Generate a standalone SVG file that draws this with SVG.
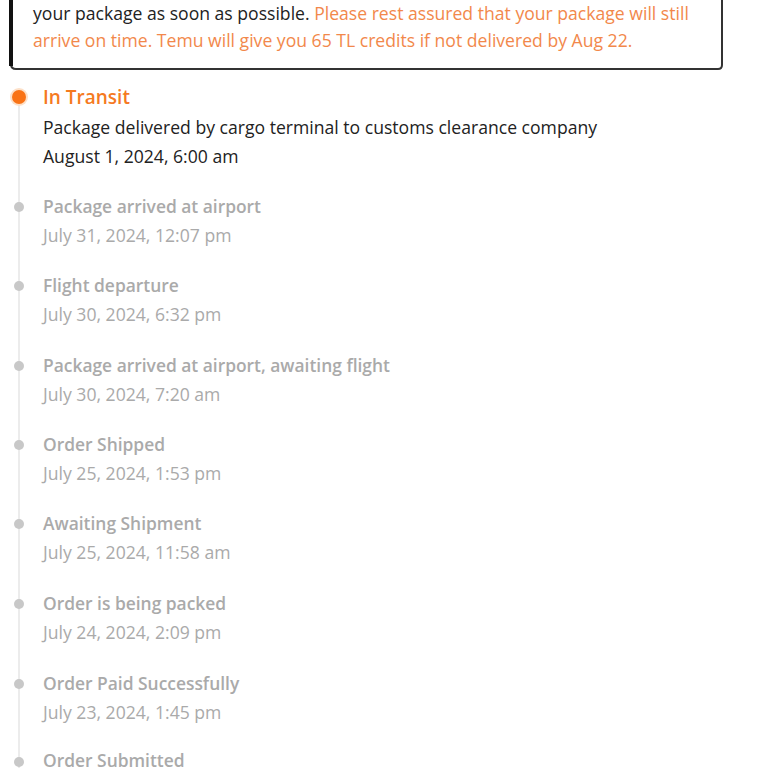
<svg xmlns="http://www.w3.org/2000/svg" width="768" height="768" viewBox="0 0 768 768">
<style>
text{font-family:"Open Sans","Noto Sans",sans-serif;font-size:17.6px}
.body{fill:#222}
.warn{fill:#f2884b}
.cur{fill:#f57a1f;font-size:19px;font-weight:600}
.title{fill:#aaaaaa;font-weight:600;font-size:17.4px}
.date{fill:#aaaaaa}
.dot{fill:#c8c8c8}
</style>
<rect width="768" height="768" fill="#fff"/>
<g id="notice">
<path d="M11 -10 V64 Q11 69 16 69 H718 Q722 69 722 65 V-10" fill="#fff" stroke="#333" stroke-width="2"/>
<rect x="9" y="-10" width="4" height="76" fill="#111"/>
<text x="33" y="20"><tspan class="body">your package as soon as possible. </tspan><tspan class="warn">Please rest assured that your package will still</tspan></text>
<text x="33" y="47" class="warn">arrive on time. Temu will give you 65 TL credits if not delivered by Aug 22.</text>
</g>
<g id="connectors">
<line x1="19" y1="104" x2="19" y2="768" stroke="#e6e6e6" stroke-width="1.5"/>
</g>
<g id="in-transit">
<circle cx="19" cy="97" r="9" fill="#fde0c8"/>
<circle cx="19" cy="97" r="7" fill="#f97316"/>
<text x="43" y="104" class="cur">In Transit</text>
<text x="43" y="134" class="body">Package delivered by cargo terminal to customs clearance company</text>
<text x="43" y="163" class="body">August 1, 2024, 6:00 am</text>
</g>
<g id="arrived-airport">
<circle cx="19" cy="207" r="5" class="dot"/>
<text x="43" y="213" class="title">Package arrived at airport</text>
<text x="43" y="242" class="date">July 31, 2024, 12:07 pm</text>
</g>
<g id="flight-departure">
<circle cx="19" cy="286" r="5" class="dot"/>
<text x="43" y="292" class="title">Flight departure</text>
<text x="43" y="321" class="date">July 30, 2024, 6:32 pm</text>
</g>
<g id="awaiting-flight">
<circle cx="19" cy="366" r="5" class="dot"/>
<text x="43" y="372" class="title">Package arrived at airport, awaiting flight</text>
<text x="43" y="401" class="date">July 30, 2024, 7:20 am</text>
</g>
<g id="order-shipped">
<circle cx="19" cy="445" r="5" class="dot"/>
<text x="43" y="451" class="title">Order Shipped</text>
<text x="43" y="480" class="date">July 25, 2024, 1:53 pm</text>
</g>
<g id="awaiting-shipment">
<circle cx="19" cy="524" r="5" class="dot"/>
<text x="43" y="530" class="title">Awaiting Shipment</text>
<text x="43" y="559" class="date">July 25, 2024, 11:58 am</text>
</g>
<g id="being-packed">
<circle cx="19" cy="604" r="5" class="dot"/>
<text x="43" y="610" class="title">Order is being packed</text>
<text x="43" y="639" class="date">July 24, 2024, 2:09 pm</text>
</g>
<g id="paid">
<circle cx="19" cy="684" r="5" class="dot"/>
<text x="43" y="690" class="title">Order Paid Successfully</text>
<text x="43" y="719" class="date">July 23, 2024, 1:45 pm</text>
</g>
<g id="submitted">
<circle cx="19" cy="762" r="5" class="dot"/>
<text x="43" y="767" class="title">Order Submitted</text>
</g>
</svg>
